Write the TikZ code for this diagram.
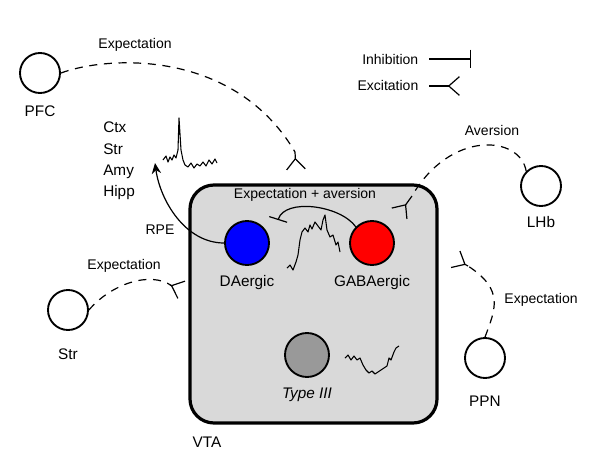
\documentclass[tikz,border=0pt]{standalone}
\usepackage{fontspec}
\setmainfont{Liberation Sans}
\usetikzlibrary{arrows.meta}
\begin{document}
\begin{tikzpicture}[x=0.75pt,y=-0.75pt,
  cell/.style={circle,draw,line width=1.4pt,minimum size=30pt,inner sep=0},
  ccell/.style={cell,minimum size=33pt},
  lbl/.style={font=\fontsize{11.5}{13}\selectfont},
  slbl/.style={font=\fontsize{10.5}{12}\selectfont},
  exc/.style={-{Straight Barb[reversed,length=8pt,width=14pt,line width=0.9pt]}},
  inh/.style={-{Bar[width=14pt,line width=0.9pt]}},
  proj/.style={dash pattern=on 6pt off 5pt,line width=0.9pt},
  trace/.style={line width=0.8pt,line join=round}]
\useasboundingbox (0,0) rectangle (600,468);
% VTA box
\draw[line width=2.4pt,fill=black!15,rounded corners=18pt] (190,185) rectangle (437,423);
\node[lbl] (vta) at (207,442) {VTA};
% cells
\node[cell] (pfc) at (40,73) {};
\node[lbl] (pfcl) at (40,111) {PFC};
\node[cell] (str) at (68,310) {};
\node[lbl] (strl) at (68,354) {Str};
\node[cell] (lhb) at (541,186) {};
\node[lbl] (lhbl) at (541,222) {LHb};
\node[cell] (ppn) at (485,358) {};
\node[lbl] (ppnl) at (485,401) {PPN};
\node[ccell,fill=blue] (da) at (247,243) {};
\node[lbl] (dal) at (247,283) {DAergic};
\node[ccell,fill=red] (gaba) at (372,243) {};
\node[lbl] (gabal) at (372,283) {GABAergic};
\node[ccell,fill=black!40] (t3) at (307,355) {};
\node[lbl,font=\fontsize{11.5}{13}\selectfont\itshape] (t3l) at (307,395) {Type III};
% targets
\node[lbl,align=left,anchor=north west,inner sep=0,font=\fontsize{11.5}{16}\selectfont] (tgt) at (103,122) {Ctx\\Str\\Amy\\Hipp};
\coordinate (rpeend) at (155,163);
\node[slbl] (rpe) at (160,230) {RPE};
\node[slbl] (ea) at (305,195) {Expectation + aversion};
\node[slbl] (e1) at (135,45) {Expectation};
\node[slbl] (e2) at (124,266) {Expectation};
\node[slbl] (e3) at (541,300) {Expectation};
\node[slbl] (av) at (492,130) {Aversion};
% fork coordinates
\coordinate (f1) at (296,170);
\coordinate (f2) at (182,290);
\coordinate (f3) at (399,214);
\coordinate (f4) at (455,259);
% connectors
\draw[line width=0.9pt,-{Stealth[length=8pt,width=7pt]}] (da.west) .. controls (185,243) and (160,200) .. (rpeend);
\draw[line width=0.9pt,inh] (gaba.north west) .. controls (340,205) and (285,198) .. (278,220);
\draw[proj] (pfc.east) .. controls (110,55) and (235,50) .. (295,152);
\draw[line width=0.9pt,exc] (295,152) -- (f1);
\draw[proj] (str.east) .. controls (110,285) and (150,270) .. (172,286);
\draw[line width=0.9pt,exc] (170,285) -- (f2);
\draw[proj] (lhb.north west) .. controls (520,135) and (450,130) .. (412,196);
\draw[line width=0.9pt,exc] (412,196) -- (f3);
\draw[proj] (ppn.north) .. controls (495,310) and (505,290) .. (468,266);
\draw[line width=0.9pt,exc] (468,266) -- (f4);
% legend
\node[slbl,anchor=east] (inl) at (423,59) {Inhibition};
\node[slbl,anchor=east] (exl) at (423,85) {Excitation};
\coordinate (il) at (471,59);
\coordinate (el) at (460,86);
\draw[line width=0.9pt,inh] (inl.east)++(6,0) -- (il);
\draw[line width=0.9pt,exc] (exl.east)++(6,1) -- (el);
% traces
\draw[trace] plot coordinates {(163,160)(166,156)(168,162)(170,157)(172,160)(174,155)(176,158)(178,150)(179,118)(181,150)(183,160)(185,165)(188,167)(191,163)(194,168)(197,164)(200,166)(203,162)(206,166)(209,160)(212,164)(215,159)(217,163)};
\draw[trace] plot coordinates {(287,268)(290,265)(293,270)(296,262)(298,255)(300,240)(302,232)(305,228)(308,232)(310,225)(312,229)(315,222)(318,226)(321,230)(323,220)(325,215)(327,230)(330,237)(333,235)(336,245)(338,242)(340,252)};
\draw[trace] plot coordinates {(345,358)(348,355)(351,360)(354,356)(357,360)(360,358)(363,365)(366,370)(369,373)(372,371)(375,374)(378,372)(381,370)(384,368)(387,366)(389,358)(391,360)(394,352)(396,348)(399,346)};
\end{tikzpicture}
\end{document}
